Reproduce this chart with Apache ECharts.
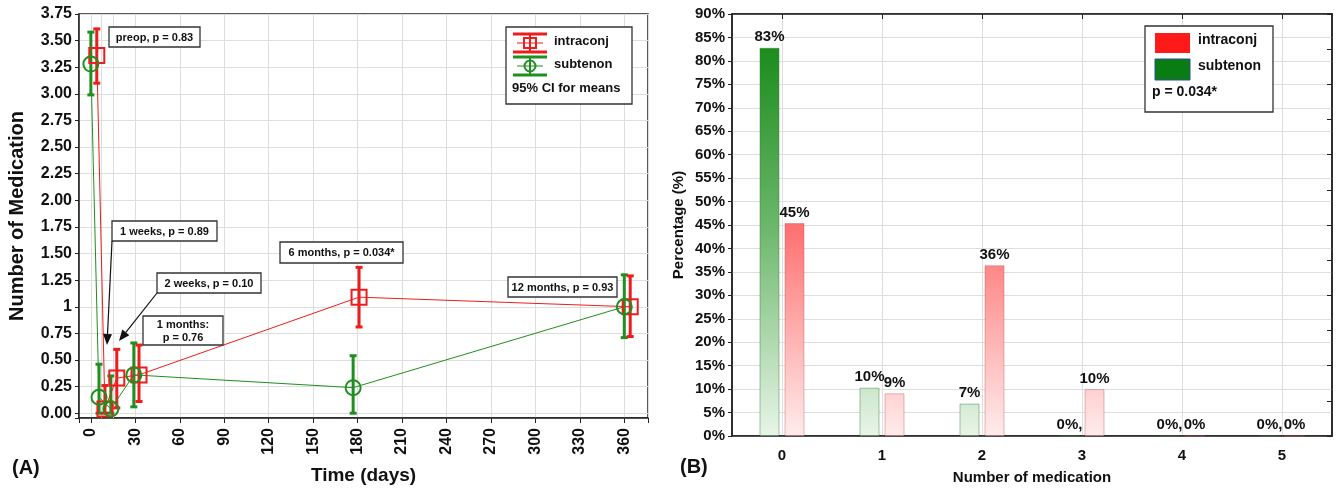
<!DOCTYPE html>
<html><head><meta charset="utf-8">
<script src="https://cdn.jsdelivr.net/npm/echarts@6/dist/echarts.min.js"></script>
<style>html,body{margin:0;padding:0;background:#fff}#c{width:1336px;height:490px}</style>
</head><body><div id="c"></div>
<script>
// ---------- Panel A data ----------
const subtenonDays  = [0, 5.5, 13.5, 29, 177, 360];
const subtenonMean  = [3.28, 0.15, 0.04, 0.36, 0.24, 1.00];
const subtenonLow   = [2.99, 0.00, 0.00, 0.06, 0.00, 0.71];
const subtenonHigh  = [3.58, 0.46, 0.35, 0.66, 0.54, 1.30];
const intraconjDays = [4, 9.5, 17.5, 32.5, 181, 364];
const intraconjMean = [3.36, 0.04, 0.33, 0.36, 1.09, 1.00];
const intraconjLow  = [3.10, 0.00, 0.05, 0.11, 0.81, 0.72];
const intraconjHigh = [3.61, 0.26, 0.60, 0.64, 1.37, 1.29];
const extraGridDays = [7, 15];
const yTickLabels = {'0':'0.00','0.25':'0.25','0.5':'0.50','0.75':'0.75','1':'1','1.25':'1.25','1.5':'1.50','1.75':'1.75','2':'2.00','2.25':'2.25','2.5':'2.50','2.75':'2.75','3':'3.00','3.25':'3.25','3.5':'3.50','3.75':'3.75'};
const timeTickLabels = ['0','30','60','90','120','150','180','210','240','270','300','330','360'];

// ---------- Panel B data ----------
const medCategories = ['0','1','2','3','4','5'];
const subtenonPct  = [82.8, 10.3, 6.9, 0, 0, 0];
const intraconjPct = [45.4, 9.1, 36.4, 10, 0, 0];

const FONT = 'Liberation Sans, Arial, sans-serif';
const RED = '#ee1c1c', GREEN = '#1f8f1f';

const chart = echarts.init(document.getElementById('c'), null, {renderer:'canvas'});

function errRender(color){
  return function(params, api){
    const x = api.value(0), lo = api.value(1), hi = api.value(2);
    const a = api.coord([x, lo]), b = api.coord([x, hi]);
    const c = 3.5;
    const st = {stroke: color, lineWidth: 3};
    return {type:'group', children:[
      {type:'line', shape:{x1:a[0], y1:a[1], x2:b[0], y2:b[1]}, style:st},
      {type:'line', shape:{x1:a[0]-c, y1:a[1], x2:a[0]+c, y2:a[1]}, style:st},
      {type:'line', shape:{x1:b[0]-c, y1:b[1], x2:b[0]+c, y2:b[1]}, style:st}
    ]};
  };
}

const zip = (xs, ys) => xs.map((x,i)=>[x, ys[i]]);
const zip3 = (xs, a, b) => xs.map((x,i)=>[x, a[i], b[i]]);

function gradient(stops){
  return {type:'linear', x:0, y:14, x2:0, y2:446, global:true,
    colorStops: stops.map(s=>({offset:s[0], color:s[1]}))};
}

// annotation boxes (layout, pixels)
const notes = [
  {text:'preop, p = 0.83', x:109, y:27, w:91, h:20},
  {text:'1 weeks, p = 0.89', x:112, y:221, w:105, h:20},
  {text:'2 weeks, p = 0.10', x:157, y:273, w:104, h:20},
  {text:'1 months:\np = 0.76', x:143, y:316, w:80, h:29},
  {text:'6 months, p = 0.034*', x:280, y:242, w:123, h:21},
  {text:'12 months, p = 0.93', x:508, y:277, w:109, h:20}
];
const arrows = [
  {x1:112, y1:241, x2:107, y2:345},
  {x1:157, y1:293, x2:119, y2:341}
];

const graphics = [];
notes.forEach(n=>{
  graphics.push({type:'rect', shape:{x:n.x, y:n.y, width:n.w, height:n.h},
    style:{fill:'#fff', stroke:'#333', lineWidth:1.3}, z:100});
  graphics.push({type:'text', x:n.x+n.w/2, y:n.y+n.h/2+0.5,
    style:{text:n.text, fill:'#111', font:'bold 11px '+FONT, align:'center', verticalAlign:'middle', lineHeight:13}, z:101});
});
arrows.forEach(a=>{
  const dx=a.x2-a.x1, dy=a.y2-a.y1, L=Math.hypot(dx,dy), ux=dx/L, uy=dy/L;
  const hl=11, hw=4.5;
  const bx=a.x2-ux*hl, by=a.y2-uy*hl;
  graphics.push({type:'line', shape:{x1:a.x1,y1:a.y1,x2:bx,y2:by}, style:{stroke:'#111', lineWidth:1.2}, z:100});
  graphics.push({type:'polygon', shape:{points:[[a.x2,a.y2],[bx-uy*hw,by+ux*hw],[bx+uy*hw,by-ux*hw]]}, style:{fill:'#111'}, z:100});
});
// legend A
graphics.push({type:'rect', shape:{x:506, y:27, width:126, height:77}, style:{fill:'#fff', stroke:'#333', lineWidth:1.3}, z:100});
function errIcon(cx, cy, color, marker){
  const st={stroke:color, lineWidth:3};
  graphics.push({type:'line', shape:{x1:cx-17,y1:cy-9,x2:cx+17,y2:cy-9}, style:st, z:101});
  graphics.push({type:'line', shape:{x1:cx-17,y1:cy+9,x2:cx+17,y2:cy+9}, style:st, z:101});
  graphics.push({type:'line', shape:{x1:cx,y1:cy-9,x2:cx,y2:cy+9}, style:{stroke:color, lineWidth:2}, z:101});
  graphics.push({type:'line', shape:{x1:cx-13,y1:cy,x2:cx+13,y2:cy}, style:{stroke:color, lineWidth:1}, z:101});
  if(marker==='rect'){
    graphics.push({type:'rect', shape:{x:cx-6,y:cy-5,width:12,height:10}, style:{fill:'none', stroke:color, lineWidth:2}, z:101});
  } else {
    graphics.push({type:'circle', shape:{cx:cx, cy:cy, r:5.5}, style:{fill:'none', stroke:color, lineWidth:2}, z:101});
  }
}
errIcon(530, 43, RED, 'rect');
errIcon(530, 66, GREEN, 'circle');
graphics.push({type:'text', x:554, y:41, style:{text:'intraconj', font:'bold 13px '+FONT, fill:'#111', verticalAlign:'middle'}, z:101});
graphics.push({type:'text', x:554, y:64, style:{text:'subtenon', font:'bold 13px '+FONT, fill:'#111', verticalAlign:'middle'}, z:101});
graphics.push({type:'text', x:512, y:88, style:{text:'95% CI for means', font:'bold 13px '+FONT, fill:'#111', verticalAlign:'middle'}, z:101});
// legend B
graphics.push({type:'rect', shape:{x:1145, y:26, width:128, height:86}, style:{fill:'#fff', stroke:'#333', lineWidth:1.3}, z:100});
graphics.push({type:'rect', shape:{x:1155, y:33, width:35, height:20}, style:{fill:'#ff1a1a'}, z:101});
graphics.push({type:'rect', shape:{x:1155, y:59, width:35, height:21}, style:{fill:'#0a7d12', stroke:'#2d4e9c', lineWidth:1}, z:101});
graphics.push({type:'text', x:1198, y:40, style:{text:'intraconj', font:'bold 14px '+FONT, fill:'#111', verticalAlign:'middle'}, z:101});
graphics.push({type:'text', x:1198, y:66, style:{text:'subtenon', font:'bold 14px '+FONT, fill:'#111', verticalAlign:'middle'}, z:101});
graphics.push({type:'text', x:1152, y:92, style:{text:'p = 0.034*', font:'bold 14px '+FONT, fill:'#111', verticalAlign:'middle'}, z:101});
// panel letters
graphics.push({type:'text', x:12, y:468, style:{text:'(A)', font:'bold 20px '+FONT, fill:'#111', verticalAlign:'middle'}, z:101});
graphics.push({type:'text', x:680, y:467, style:{text:'(B)', font:'bold 20px '+FONT, fill:'#111', verticalAlign:'middle'}, z:101});

const axLine = {show:true, onZero:false, lineStyle:{color:'#222', width:1.5}};
const grid = {lineStyle:{color:'#dedede', width:1}};

const option = {
  animation:false,
  backgroundColor:'#fff',
  textStyle:{fontFamily:FONT},
  grid:[
    {left:79, top:14, width:569, height:407, show:true, borderColor:'#222', borderWidth:1.5, containLabel:false},
    {left:732, top:14, width:600, height:432, show:true, borderColor:'#222', borderWidth:1.5, containLabel:false}
  ],
  xAxis:[
    {type:'value', gridIndex:0, min:-8, max:376, minInterval:30, maxInterval:30,
      axisLine:axLine, axisTick:{show:true, length:5, lineStyle:{color:'#222'}},
      splitLine:{show:true, ...grid},
      axisLabel:{rotate:90, margin:10, fontSize:16, fontWeight:'bold', color:'#111', fontFamily:FONT,
        formatter:v=>timeTickLabels.indexOf(String(v))>=0?String(v):''},
      name:'Time (days)', nameLocation:'middle', nameGap:48,
      nameTextStyle:{fontSize:19, fontWeight:'bold', color:'#111', fontFamily:FONT}},
    {type:'category', gridIndex:1, data:medCategories, boundaryGap:true,
      axisLine:axLine, axisTick:{show:false, alignWithLabel:true},
      splitLine:{show:true, alignWithLabel:true, ...grid},
      axisLabel:{margin:12, fontSize:15, fontWeight:'bold', color:'#111', fontFamily:FONT},
      name:'Number of medication', nameLocation:'middle', nameGap:34,
      nameTextStyle:{fontSize:15, fontWeight:'bold', color:'#111', fontFamily:FONT}},
    {type:'category', gridIndex:1, data:medCategories, position:'top', boundaryGap:true,
      axisLine:axLine, axisTick:{show:true, inside:true, alignWithLabel:true, length:5, lineStyle:{color:'#222'}},
      axisLabel:{show:false}, splitLine:{show:false}}
  ],
  yAxis:[
    {type:'value', gridIndex:0, min:-0.045, max:3.75, minInterval:0.25, maxInterval:0.25,
      axisLine:axLine, axisTick:{show:true, length:4, lineStyle:{color:'#222'}},
      splitLine:{show:true, ...grid},
      axisLabel:{margin:7, fontSize:16, fontWeight:'bold', color:'#111', fontFamily:FONT,
        formatter:v=>{const k=String(+v.toFixed(2)); return yTickLabels[k]!==undefined && v>=0 ? yTickLabels[k] : '';}},
      name:'Number of Medication', nameLocation:'middle', nameGap:52,
      nameTextStyle:{fontSize:20, fontWeight:'bold', color:'#111', fontFamily:FONT}},
    {type:'value', gridIndex:1, min:0, max:90, interval:5,
      axisLine:axLine, axisTick:{show:true, length:4, lineStyle:{color:'#222'}},
      splitLine:{show:true, ...grid},
      axisLabel:{margin:7, fontSize:15, fontWeight:'bold', color:'#111', fontFamily:FONT, formatter:v=>v+'%'},
      name:'Percentage (%)', nameLocation:'middle', nameGap:46,
      nameTextStyle:{fontSize:15, fontWeight:'bold', color:'#111', fontFamily:FONT}},
    {type:'value', gridIndex:1, position:'right', min:-5, max:85, interval:7.5,
      axisLine:axLine, axisTick:{show:true, inside:true, length:5, lineStyle:{color:'#222'}},
      axisLabel:{show:false}, splitLine:{show:false}}
  ],
  series:[
    {type:'line', xAxisIndex:0, yAxisIndex:0, data:zip(intraconjDays, intraconjMean),
      lineStyle:{color:RED, width:1}, symbol:'rect', symbolSize:[15,15],
      itemStyle:{color:'rgba(0,0,0,0)', borderColor:RED, borderWidth:2}, z:5,
      markLine:{silent:true, symbol:'none', label:{show:false},
        lineStyle:{color:'#dedede', width:1, type:'solid'}, z:1,
        data:extraGridDays.map(d=>({xAxis:d}))}},
    {type:'line', xAxisIndex:0, yAxisIndex:0, data:zip(subtenonDays, subtenonMean),
      lineStyle:{color:GREEN, width:1}, symbol:'circle', symbolSize:15,
      itemStyle:{color:'rgba(0,0,0,0)', borderColor:GREEN, borderWidth:2}, z:5},
    {type:'custom', xAxisIndex:0, yAxisIndex:0, renderItem:errRender(GREEN),
      data:zip3(subtenonDays, subtenonLow, subtenonHigh), z:4, encode:{x:0, y:[1,2]}},
    {type:'custom', xAxisIndex:0, yAxisIndex:0, renderItem:errRender(RED),
      data:zip3(intraconjDays, intraconjLow, intraconjHigh), z:4, encode:{x:0, y:[1,2]}},
    {type:'bar', name:'subtenon', xAxisIndex:1, yAxisIndex:1, data:subtenonPct, barWidth:20, barGap:'25%',
      itemStyle:{color:gradient([[0,'#0c840c'],[0.5,'#6db86d'],[1,'#eef8ee']]), borderColor:'rgba(60,120,60,0.45)', borderWidth:1},
      label:{show:true, position:'top', distance:3, fontSize:15, fontWeight:'bold', color:'#111', fontFamily:FONT,
        formatter:p=>p.value===0?'0%,':Math.round(p.value)+'%'}},
    {type:'bar', name:'intraconj', xAxisIndex:1, yAxisIndex:1, data:intraconjPct, barWidth:20, barGap:'25%',
      itemStyle:{color:gradient([[0,'#ff3c3c'],[0.5,'#ff7272'],[1,'#fff2f2']]), borderColor:'rgba(190,80,80,0.4)', borderWidth:1},
      label:{show:true, position:'top', distance:3, fontSize:15, fontWeight:'bold', color:'#111', fontFamily:FONT,
        formatter:p=>Math.round(p.value)+'%'}}
  ],
  graphic:graphics
};
chart.setOption(option);
</script></body></html>
